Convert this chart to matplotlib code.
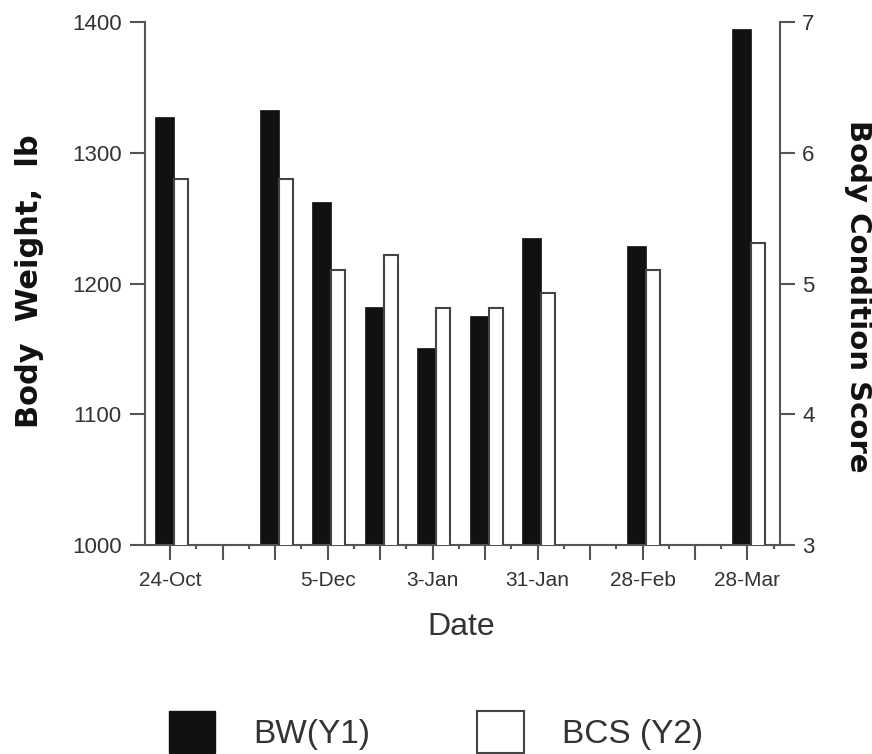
import matplotlib
matplotlib.use("Agg")
import matplotlib.pyplot as plt
from matplotlib.patches import Patch
from matplotlib.ticker import FixedLocator
import numpy as np

# ---- data ----
tick_labels = ['24-Oct', '', '', '5-Dec', '', '3-Jan', '', '31-Jan', '', '28-Feb', '', '28-Mar']
bar_pos = [0, 2, 3, 4, 5, 6, 7, 9, 11]          # sampling dates (14-day steps)
bw_values = [1327, 1333, 1262, 1182, 1151, 1175, 1235, 1229, 1395]
bcs_values = [5.8, 5.8, 5.1, 5.22, 4.81, 4.81, 4.93, 5.1, 5.31]

plt.rcParams['font.family'] = ['Liberation Sans', 'DejaVu Sans']

W, H = 872, 754
fig = plt.figure(figsize=(W / 100, H / 100), dpi=100)
ax = fig.add_axes([145 / W, 1 - 545 / H, (780 - 145) / W, (545 - 22) / H])
ax2 = ax.twinx()

dark = '#333333'
spine_c = '#555555'

ax.bar(np.array(bar_pos) - 0.29, bw_values, width=0.36, align='edge',
       color='#111111', edgecolor='#111111', linewidth=0.5)
ax2.bar(np.array(bar_pos) + 0.07, bcs_values, width=0.27, align='edge',
        color='white', edgecolor='#444444', linewidth=1.5)

ax.set_xlim(-0.48, 11.62)
ax.set_ylim(1000, 1400)
ax2.set_ylim(3, 7)

ax.set_yticks(range(1000, 1401, 100))
ax2.set_yticks(range(3, 8))

ax.xaxis.set_major_locator(FixedLocator(range(len(tick_labels))))
ax.set_xticklabels(tick_labels)
ax.xaxis.set_minor_locator(FixedLocator(np.arange(len(tick_labels)) + 0.5))

for a in (ax, ax2):
    a.spines['top'].set_visible(False)
    for s in a.spines.values():
        s.set_color(spine_c)
        s.set_linewidth(1.5)
ax.spines['right'].set_visible(False)
ax2.spines['left'].set_visible(False)
ax2.spines['bottom'].set_visible(False)

ax.tick_params(axis='y', direction='out', length=11, width=1.5, color=spine_c,
               labelsize=16, labelcolor=dark, pad=6)
ax2.tick_params(axis='y', direction='out', length=11, width=1.5, color=spine_c,
                labelsize=16, labelcolor=dark, pad=5)
ax.tick_params(axis='x', which='major', direction='out', length=11, width=1.5,
               color=spine_c, labelsize=15, labelcolor=dark, pad=8)
ax.tick_params(axis='x', which='minor', direction='out', length=3, width=1.5,
               color=spine_c)

fig.text(461 / W, 1 - 627 / H, 'Date', ha='center', va='center',
         fontsize=23, color=dark)
fig.text(30 / W, 1 - 281 / H, 'Body  Weight,  lb', ha='center', va='center',
         rotation=90, fontsize=22, fontweight='bold',
         family=['DejaVu Sans'], color='#111111')
fig.text(858 / W, 1 - 296 / H, 'Body Condition Score', ha='center', va='center',
         rotation=270, fontsize=21, fontweight='bold',
         family=['DejaVu Sans'], color='#111111')

handles = [Patch(facecolor='#111111', edgecolor='#111111', label='BW(Y1)'),
           Patch(facecolor='white', edgecolor='#444444', linewidth=1.5, label='BCS (Y2)')]
leg = fig.legend(handles=handles, ncol=2, loc='center', frameon=False,
                 bbox_to_anchor=(436 / W, 1 - 732 / H), fontsize=24,
                 handlelength=1.4, handleheight=1.6, handletextpad=1.15,
                 columnspacing=3.2, labelcolor=dark)

fig.savefig('out.png', dpi=100)
